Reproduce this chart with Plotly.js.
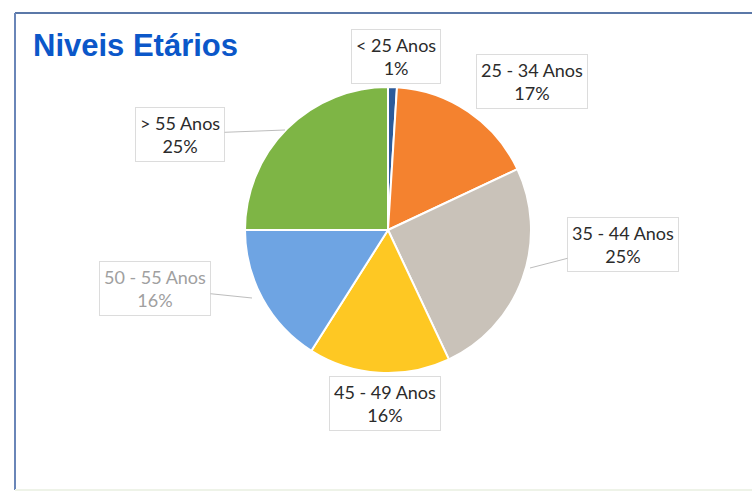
<!DOCTYPE html>
<html>
<head>
<meta charset="utf-8">
<script src="https://cdn.plot.ly/plotly-3.0.1.min.js"></script>
<style>html,body{margin:0;padding:0;background:#fff;}#chart{width:752px;height:493px;}</style>
</head>
<body>
<div id="chart"></div>
<script>
// Data
var categories = ["< 25 Anos", "25 - 34 Anos", "35 - 44 Anos", "45 - 49 Anos", "50 - 55 Anos", "> 55 Anos"];
var percentages = [1, 17, 25, 16, 16, 25];
var sliceColors = ["#2D5B9A", "#F4822F", "#C9C2B9", "#FEC823", "#6EA4E3", "#7EB545"];

var W = 752, H = 493;
function px(x) { return x / W; }
function py(y) { return 1 - y / H; }

// label placement (pixel centres) and optional leader endpoints
var labelPos = [
  {cx: 396, cy: 56},
  {cx: 532, cy: 81},
  {cx: 623, cy: 244, lx: 530, ly: 268},
  {cx: 385, cy: 403},
  {cx: 155, cy: 288, lx: 252, ly: 298},
  {cx: 180, cy: 134, lx: 285, ly: 130}
];
var labelColors = ["#2b2b2b", "#2b2b2b", "#2b2b2b", "#2b2b2b", "#a0a0a0", "#2b2b2b"];

var annotations = categories.map(function (c, i) {
  var p = labelPos[i];
  var a = {
    text: c + "<br>" + percentages[i] + "%",
    xref: "paper", yref: "paper",
    font: {family: "Lato, 'Open Sans', sans-serif", size: 18, color: labelColors[i]},
    bgcolor: "#ffffff",
    bordercolor: "#dcdcdc",
    borderwidth: 1,
    borderpad: 4,
    align: "center"
  };
  if (p.lx !== undefined) {
    a.x = px(p.lx); a.y = py(p.ly);
    a.showarrow = true; a.arrowhead = 0; a.arrowwidth = 1; a.arrowcolor = "#bdbdbd";
    a.ax = p.cx - p.lx; a.ay = p.cy - p.ly;
    a.standoff = 0;
  } else {
    a.x = px(p.cx); a.y = py(p.cy);
    a.showarrow = false; a.xanchor = "center"; a.yanchor = "middle";
  }
  return a;
});

var trace = {
  type: "pie",
  labels: categories,
  values: percentages,
  sort: false,
  direction: "clockwise",
  rotation: 0,
  marker: {colors: sliceColors, line: {color: "#ffffff", width: 2}},
  textinfo: "none",
  hoverinfo: "label+percent",
  showlegend: false,
  domain: {x: [px(388 - 143), px(388 + 143)], y: [py(230 + 143), py(230 - 143)]}
};

var layout = {
  width: W, height: H,
  margin: {l: 0, r: 0, t: 0, b: 0},
  paper_bgcolor: "#ffffff",
  showlegend: false,
  title: {
    text: "<b>Niveis Etários</b>",
    font: {family: "'Liberation Sans', Arial, sans-serif", size: 31, color: "#0B57C9"},
    xref: "paper", yref: "paper",
    x: px(33), xanchor: "left",
    y: py(45), yanchor: "middle"
  },
  annotations: annotations,
  shapes: [
    {type: "line", xref: "paper", yref: "paper", x0: px(15), x1: 1, y0: py(13), y1: py(13), line: {color: "#5B78A8", width: 2}},
    {type: "line", xref: "paper", yref: "paper", x0: px(15), x1: px(15), y0: py(13), y1: py(490), line: {color: "#6A86B8", width: 2}},
    {type: "line", xref: "paper", yref: "paper", x0: px(15), x1: 1, y0: py(490), y1: py(490), line: {color: "#eef3e8", width: 2}}
  ]
};

Plotly.newPlot("chart", [trace], layout, {displayModeBar: false, staticPlot: true});
</script>
</body>
</html>
